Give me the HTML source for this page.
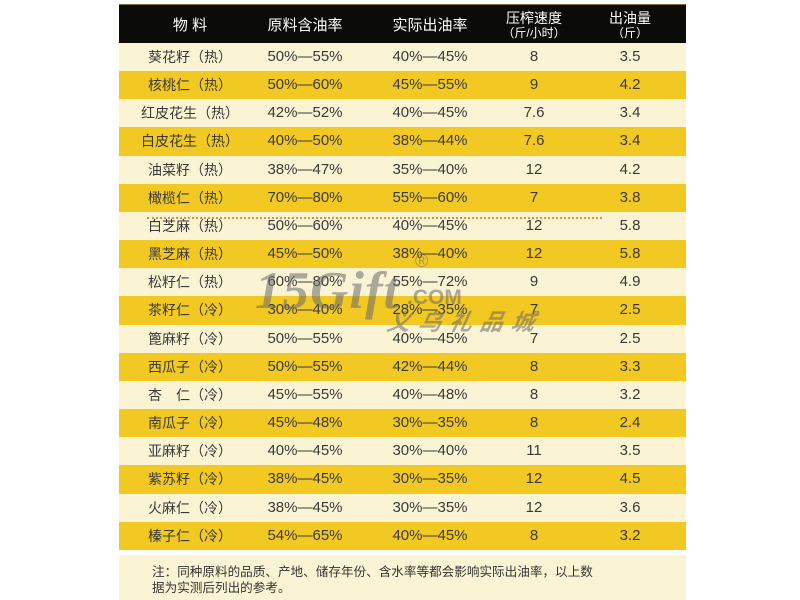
<!DOCTYPE html>
<html>
<head>
<meta charset="utf-8">
<style>
  html,body{margin:0;padding:0;background:#fff;}
  body{width:800px;height:600px;position:relative;overflow:hidden;
       font-family:"Liberation Sans","Noto Sans CJK SC",sans-serif;}
  .tbl{position:absolute;left:119px;top:4px;width:567px;}
  .hdr{position:absolute;left:0;top:0;width:567px;height:39px;background:#0b0b09;border-top:1px solid #7d6a35;box-sizing:border-box;color:#fff;}
  .hdr span{position:absolute;width:120px;text-align:center;font-size:15px;top:11px;line-height:20px;white-space:nowrap;}
  .hdr .two{top:6px;line-height:15px;font-size:14px;}
  .hdr .two small{display:block;font-size:12px;line-height:14px;}
  .rows{position:absolute;left:0;top:39px;width:567px;}
  .r{position:relative;height:28.17px;width:567px;background:#fbf4d4;}
  .r.y{background:#f2c823;}
  .r span{position:absolute;top:0;width:120px;text-align:center;line-height:28.17px;color:#3a3a38;font-size:15px;white-space:nowrap;}
  .r span.n{font-size:14px;}
  .c1{left:11px}.c2{left:126px}.c3{left:251px}.c4{left:355px}.c5{left:451px}
  .dots{position:absolute;left:147px;top:217px;width:455px;border-top:2px dotted #c29d3c;}
  .note{position:absolute;left:119px;top:555px;width:567px;height:45px;background:#fbf4d4;}
  .note p{margin:0;position:absolute;left:33px;top:10px;font-size:12.6px;line-height:15.5px;color:#333;white-space:nowrap;}
  .wm{position:absolute;color:rgba(105,105,105,0.55);white-space:nowrap;}
</style>
</head>
<body>
<div class="tbl">
  <div class="hdr">
    <span class="c1">物 料</span>
    <span class="c2">原料含油率</span>
    <span class="c3">实际出油率</span>
    <span class="c4 two">压榨速度<small>（斤/小时）</small></span>
    <span class="c5 two">出油量<small>（斤）</small></span>
  </div>
  <div class="rows">
    <div class="r"><span class="c1 n">葵花籽（热）</span><span class="c2">50%—55%</span><span class="c3">40%—45%</span><span class="c4">8</span><span class="c5">3.5</span></div>
    <div class="r y"><span class="c1 n">核桃仁（热）</span><span class="c2">50%—60%</span><span class="c3">45%—55%</span><span class="c4">9</span><span class="c5">4.2</span></div>
    <div class="r"><span class="c1 n">红皮花生（热）</span><span class="c2">42%—52%</span><span class="c3">40%—45%</span><span class="c4">7.6</span><span class="c5">3.4</span></div>
    <div class="r y"><span class="c1 n">白皮花生（热）</span><span class="c2">40%—50%</span><span class="c3">38%—44%</span><span class="c4">7.6</span><span class="c5">3.4</span></div>
    <div class="r"><span class="c1 n">油菜籽（热）</span><span class="c2">38%—47%</span><span class="c3">35%—40%</span><span class="c4">12</span><span class="c5">4.2</span></div>
    <div class="r y"><span class="c1 n">橄榄仁（热）</span><span class="c2">70%—80%</span><span class="c3">55%—60%</span><span class="c4">7</span><span class="c5">3.8</span></div>
    <div class="r"><span class="c1 n">白芝麻（热）</span><span class="c2">50%—60%</span><span class="c3">40%—45%</span><span class="c4">12</span><span class="c5">5.8</span></div>
    <div class="r y"><span class="c1 n">黑芝麻（热）</span><span class="c2">45%—50%</span><span class="c3">38%—40%</span><span class="c4">12</span><span class="c5">5.8</span></div>
    <div class="r"><span class="c1 n">松籽仁（热）</span><span class="c2">60%—80%</span><span class="c3">55%—72%</span><span class="c4">9</span><span class="c5">4.9</span></div>
    <div class="r y"><span class="c1 n">茶籽仁（冷）</span><span class="c2">30%—40%</span><span class="c3">28%—35%</span><span class="c4">7</span><span class="c5">2.5</span></div>
    <div class="r"><span class="c1 n">篦麻籽（冷）</span><span class="c2">50%—55%</span><span class="c3">40%—45%</span><span class="c4">7</span><span class="c5">2.5</span></div>
    <div class="r y"><span class="c1 n">西瓜子（冷）</span><span class="c2">50%—55%</span><span class="c3">42%—44%</span><span class="c4">8</span><span class="c5">3.3</span></div>
    <div class="r"><span class="c1 n">杏　仁（冷）</span><span class="c2">45%—55%</span><span class="c3">40%—48%</span><span class="c4">8</span><span class="c5">3.2</span></div>
    <div class="r y"><span class="c1 n">南瓜子（冷）</span><span class="c2">45%—48%</span><span class="c3">30%—35%</span><span class="c4">8</span><span class="c5">2.4</span></div>
    <div class="r"><span class="c1 n">亚麻籽（冷）</span><span class="c2">40%—45%</span><span class="c3">30%—40%</span><span class="c4">11</span><span class="c5">3.5</span></div>
    <div class="r y"><span class="c1 n">紫苏籽（冷）</span><span class="c2">38%—45%</span><span class="c3">30%—35%</span><span class="c4">12</span><span class="c5">4.5</span></div>
    <div class="r"><span class="c1 n">火麻仁（冷）</span><span class="c2">38%—45%</span><span class="c3">30%—35%</span><span class="c4">12</span><span class="c5">3.6</span></div>
    <div class="r y"><span class="c1 n">榛子仁（冷）</span><span class="c2">54%—65%</span><span class="c3">40%—45%</span><span class="c4">8</span><span class="c5">3.2</span></div>
  </div>
</div>
<div class="dots"></div>
<div class="note"><p>注：同种原料的品质、产地、储存年份、含水率等都会影响实际出油率，以上数<br>据为实测后列出的参考。</p></div>

<div class="wm" style="left:255px;top:265px;font-family:'Liberation Serif',serif;font-weight:bold;font-style:italic;font-size:53px;line-height:53px;letter-spacing:1px;">15Gift</div>
<div class="wm" style="left:415px;top:251px;font-family:'Liberation Sans',sans-serif;font-size:18px;line-height:20px;">®</div>
<div class="wm" style="left:407px;top:287px;font-family:'Liberation Sans',sans-serif;font-weight:bold;font-size:21px;line-height:21px;">.COM</div>
<div class="wm" style="left:388px;top:306px;font-family:'Noto Sans CJK SC',sans-serif;font-weight:bold;font-style:italic;font-size:23px;line-height:28px;letter-spacing:8px;transform:skewX(-12deg);">义乌礼品城</div>
</body>
</html>
